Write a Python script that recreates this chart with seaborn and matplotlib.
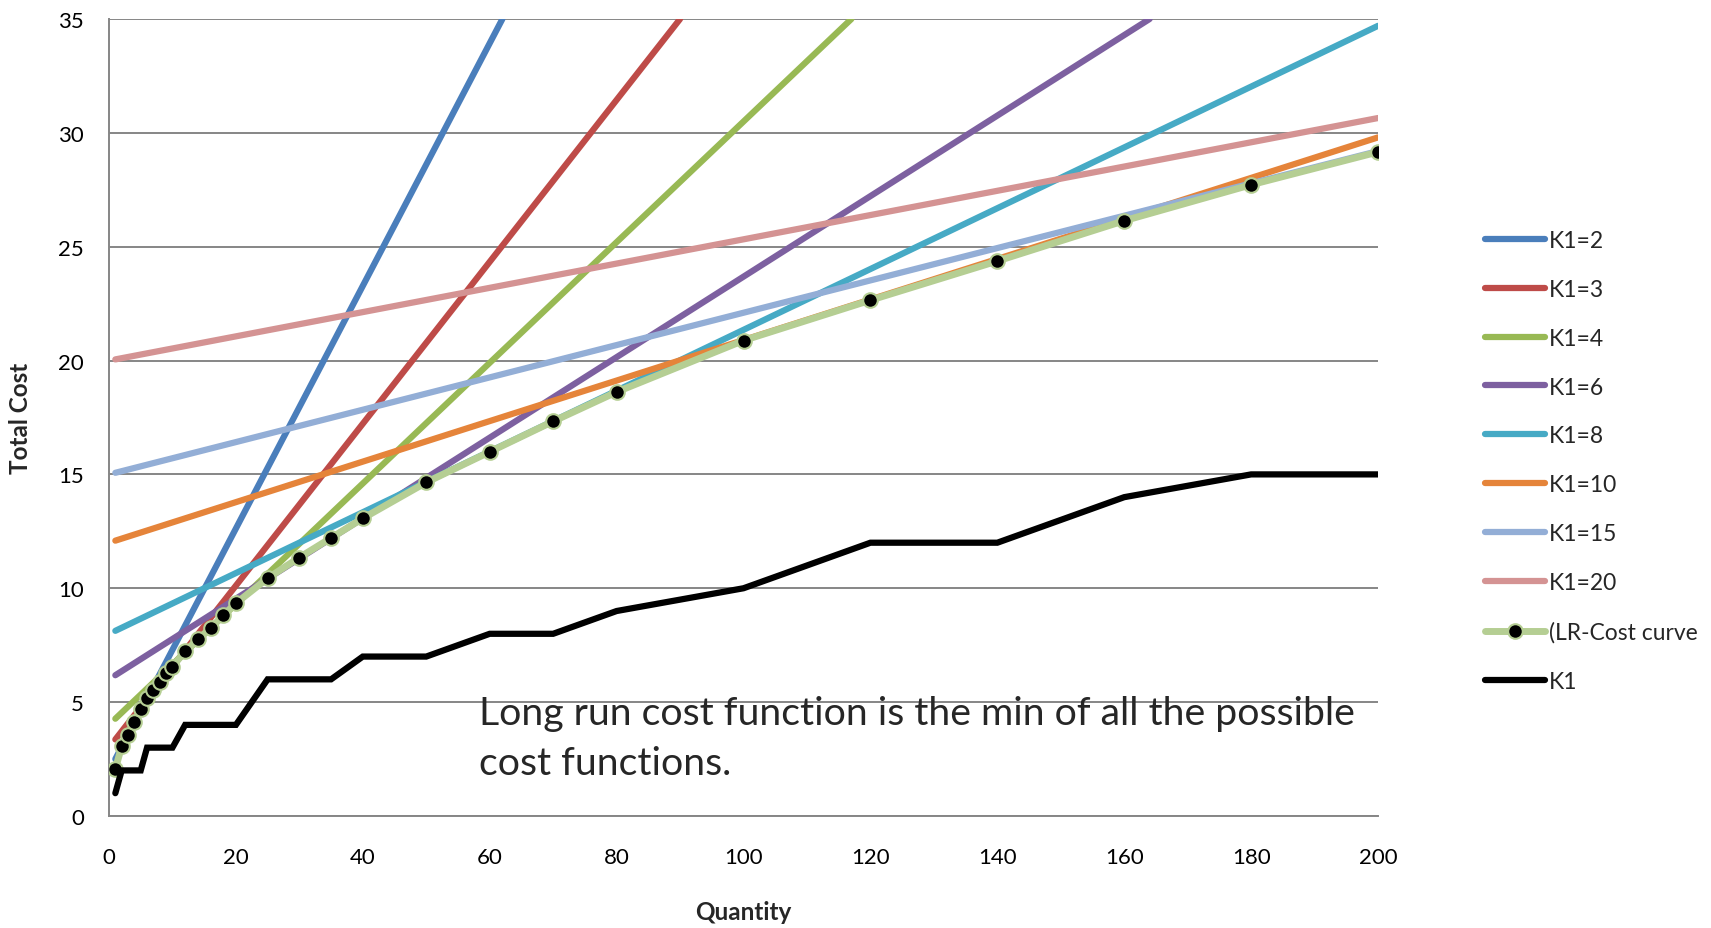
import matplotlib
matplotlib.use("Agg")
import matplotlib.pyplot as plt
import seaborn as sns
import pandas as pd

# Short-run total cost lines, one per fixed capital level (two end points each)
sr_labels = ["K1=2", "K1=3", "K1=4", "K1=6", "K1=8", "K1=10", "K1=15", "K1=20"]
sr_q = [[1, 62], [1, 90], [1, 117], [1, 164], [1, 200], [1, 200], [1, 200], [1, 200]]
sr_tc = [[2.5, 35.0], [3.36, 35.0], [4.27, 35.0], [6.18, 35.0],
         [8.13, 34.7], [12.09, 29.8], [15.07, 29.2], [20.05, 30.65]]
sr_colors = ["#4A7EBB", "#BE4B48", "#98B954", "#7D60A0",
             "#46AAC5", "#E5843A", "#93AED6", "#D49393"]

# Long-run cost curve and the capital level chosen at each quantity
q_lr = [1, 2, 3, 4, 5, 6, 7, 8, 9, 10, 12, 14, 16, 18, 20, 25, 30, 35, 40,
        50, 60, 70, 80, 100, 120, 140, 160, 180, 200]
tc_lr = [2.06, 3.06, 3.54, 4.12, 4.69, 5.17, 5.55, 5.89, 6.27, 6.56, 7.23, 7.76,
         8.24, 8.81, 9.34, 10.44, 11.35, 12.21, 13.07, 14.65, 15.99, 17.33,
         18.62, 20.88, 22.65, 24.37, 26.14, 27.72, 29.16]
k_opt = [1, 2, 2, 2, 2, 3, 3, 3, 3, 3, 4, 4, 4, 4, 4, 6, 6, 6, 7,
         7, 8, 8, 9, 10, 12, 12, 14, 15, 15]

x_ticks = [0, 20, 40, 60, 80, 100, 120, 140, 160, 180, 200]
y_ticks = [0, 5, 10, 15, 20, 25, 30, 35]

note_lines = ["Long run cost function is the min of all the possible",
              "cost functions."]

sns.set_style("white")
plt.rcParams["font.family"] = ["Lato", "DejaVu Sans"]

GRID = "#868686"

fig = plt.figure(figsize=(17.11, 9.29), dpi=100)
ax = fig.add_axes([0.0637, 0.1206, 0.7417, 0.8579])

for lab, qs, tcs, col in zip(sr_labels, sr_q, sr_tc, sr_colors):
    df = pd.DataFrame({"Quantity": qs, "Total Cost": tcs})
    sns.lineplot(data=df, x="Quantity", y="Total Cost", ax=ax, color=col,
                 lw=4.5, label=lab, solid_capstyle="round", zorder=3)

lr = pd.DataFrame({"Quantity": q_lr, "Total Cost": tc_lr})
sns.lineplot(data=lr, x="Quantity", y="Total Cost", ax=ax, color="#B5CE93",
             lw=5, marker="o", markersize=10.5, markerfacecolor="black",
             markeredgecolor="#B5CE93", markeredgewidth=1.5,
             label="(LR-Cost curve", solid_capstyle="round", zorder=4)

kd = pd.DataFrame({"Quantity": q_lr, "K": k_opt})
sns.lineplot(data=kd, x="Quantity", y="K", ax=ax, color="black", lw=4.5,
             label="K1", solid_capstyle="round", solid_joinstyle="miter", zorder=5)

if ax.get_legend() is not None:
    ax.get_legend().remove()

ax.set_xlim(0, 200)
ax.set_ylim(0, 35)
ax.set_xticks(x_ticks)
ax.set_yticks(y_ticks)
ax.tick_params(axis="both", length=0, labelsize=16, colors="black")
ax.tick_params(axis="x", pad=22)
ax.tick_params(axis="y", pad=18)

ax.yaxis.grid(True, color=GRID, lw=1.4)
ax.xaxis.grid(False)
ax.set_axisbelow(True)
for side in ["top", "right"]:
    ax.spines[side].set_visible(False)
for side in ["left", "bottom"]:
    ax.spines[side].set_color(GRID)
    ax.spines[side].set_linewidth(1.4)

ax.set_xlabel("Quantity", fontsize=17.5, fontweight="bold")
ax.set_ylabel("Total Cost", fontsize=17.5, fontweight="bold")
ax.xaxis.set_label_coords(0.5, -0.106)
ax.yaxis.set_label_coords(-0.061, 0.5)

ax.text(58.3, 4.04, note_lines[0], fontsize=28.3, va="baseline", ha="left", zorder=6)
ax.text(58.3, 1.84, note_lines[1], fontsize=28.3, va="baseline", ha="left", zorder=6)

handles, labels = ax.get_legend_handles_labels()
fig.legend(handles, labels, loc="center left", bbox_to_anchor=(0.868, 0.503),
           frameon=False, fontsize=16.5, handlelength=2.6, handletextpad=0.2,
           labelspacing=1.22, borderpad=0, borderaxespad=0)

fig.savefig("out.png", dpi=100, facecolor="white")
